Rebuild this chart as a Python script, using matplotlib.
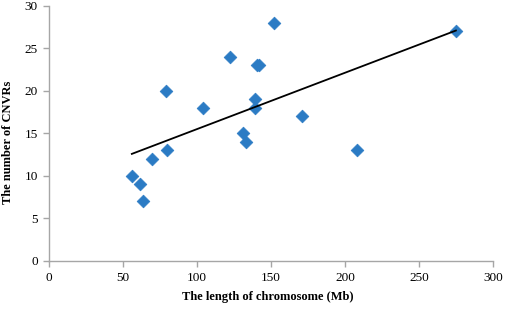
import numpy as np
import matplotlib
matplotlib.use('Agg')
import matplotlib.pyplot as plt

# chromosome length (Mb) vs number of CNVRs
chrom_length = [56, 61.5, 63.5, 69.5, 80, 79, 104, 122, 131, 133,
                139.5, 139.5, 140.5, 142, 152, 171, 208, 275]
n_cnvr = [10, 9, 7, 12, 13, 20, 18, 24, 15, 14,
          18, 19, 23, 23, 28, 17, 13, 27]

x_ticks = [0, 50, 100, 150, 200, 250, 300]
y_ticks = [0, 5, 10, 15, 20, 25, 30]

plt.rcParams['font.family'] = ['Liberation Serif', 'DejaVu Serif']

fig = plt.figure(figsize=(5.05, 3.12), dpi=100)
ax = fig.add_axes([0.097, 0.164, 0.879, 0.817])

x = np.array(chrom_length)
y = np.array(n_cnvr)
ax.scatter(x, y, marker='D', s=42, color='#2b7bc4', edgecolors='#2b7bc4',
           linewidths=0.5, zorder=3)

# linear trendline
k, b = np.polyfit(x, y, 1)
xs = np.array([x.min(), x.max()])
ax.plot(xs, k * xs + b, color='black', linewidth=1.3, zorder=4)

ax.set_xlim(0, 300)
ax.set_ylim(0, 30)
ax.set_xticks(x_ticks)
ax.set_yticks(y_ticks)

for side in ['top', 'right']:
    ax.spines[side].set_visible(False)
for side in ['left', 'bottom']:
    ax.spines[side].set_color('#a6a6a6')
    ax.spines[side].set_linewidth(1.0)
ax.tick_params(direction='out', length=4, width=1.0, color='#a6a6a6',
               labelsize=9.5, labelcolor='black', pad=4)

ax.set_xlabel('The length of chromosome (Mb)', fontsize=9, fontweight='bold', va='center')
ax.set_ylabel('The number of CNVRs', fontsize=9, fontweight='bold', va='center')
ax.xaxis.set_label_coords(0.492, -0.142)
ax.yaxis.set_label_coords(-0.092, 0.466)

fig.savefig('out.png', dpi=100)
